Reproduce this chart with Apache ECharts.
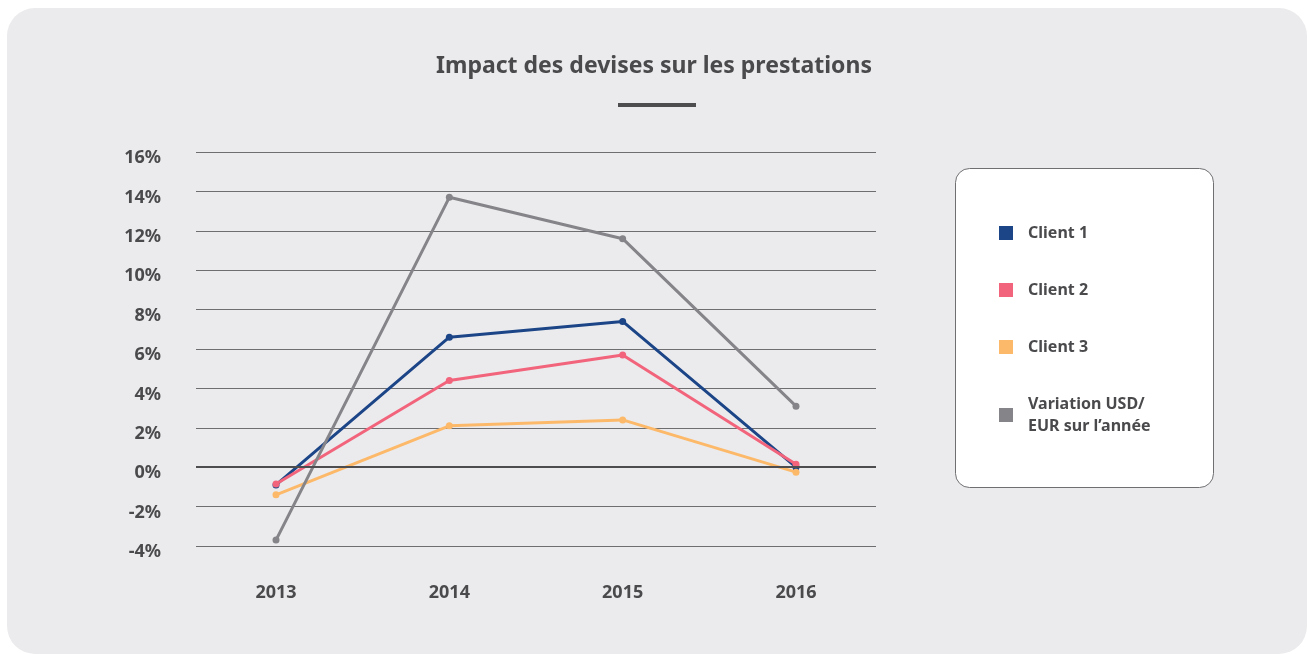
<!DOCTYPE html>
<html>
<head>
<meta charset="utf-8">
<script src="https://cdn.jsdelivr.net/npm/echarts@6/dist/echarts.min.js"></script>
<style>
  html, body { margin: 0; padding: 0; background: #fff; }
  #chart { width: 1308px; height: 654px; }
</style>
</head>
<body>
<div id="chart"></div>
<script>
var years = ['2013', '2014', '2015', '2016'];
var client1 = [-0.9, 6.6, 7.4, 0.0];
var client2 = [-0.85, 4.4, 5.7, 0.15];
var client3 = [-1.4, 2.1, 2.4, -0.25];
var usdEur = [-3.7, 13.7, 11.6, 3.1];
var seriesNames = ['Client 1', 'Client 2', 'Client 3', 'Variation USD/EUR sur l’année'];
var colors = ['#1c4587', '#f2647b', '#fdb96a', '#858589'];

var font = 'Noto Sans';
var textColor = '#4a4a4d';

function makeLine(name, data, color) {
    return {
        name: name,
        type: 'line',
        xAxisIndex: 1,
        yAxisIndex: 1,
        data: data,
        symbol: 'circle',
        symbolSize: 7,
        lineStyle: { width: 3, color: color },
        itemStyle: { color: color },
        emphasis: { disabled: true }
    };
}

var myChart = echarts.init(document.getElementById('chart'));

var option = {
    animation: false,
    textStyle: { fontFamily: font },
    title: {
        text: 'Impact des devises sur les prestations',
        left: 'center',
        top: 50,
        textStyle: { fontFamily: font, fontSize: 23, fontWeight: 'bold', color: textColor }
    },
    graphic: [
        {
            type: 'rect', z: -10,
            shape: { x: 7, y: 8, width: 1300, height: 646, r: 28 },
            style: { fill: '#ebebed' }
        },
        {
            type: 'rect',
            shape: { x: 618, y: 103, width: 78, height: 4 },
            style: { fill: '#4d4d4f' }
        },
        {
            type: 'rect', z: -5,
            shape: { x: 955.5, y: 168.5, width: 258, height: 319, r: 14 },
            style: { fill: '#ffffff', stroke: '#6f6f72', lineWidth: 1 }
        }
    ],
    legend: {
        orient: 'vertical',
        left: 994,
        top: 217,
        itemGap: 35,
        itemWidth: 14,
        itemHeight: 14,
        icon: 'rect',
        data: seriesNames,
        formatter: function (name) {
            return name.replace('USD/', 'USD/\n');
        },
        textStyle: {
            fontFamily: font, fontSize: 16, fontWeight: 'bold', color: textColor,
            lineHeight: 22, padding: [0, 0, 0, 10]
        }
    },
    grid: [
        { left: 196, right: 432, top: 152, bottom: 108 },
        { left: 276, right: 512, top: 152, bottom: 108 }
    ],
    xAxis: [
        {
            gridIndex: 0, type: 'category', data: years,
            show: false
        },
        {
            gridIndex: 1, type: 'category', data: years, boundaryGap: false,
            axisLine: { show: false },
            axisTick: { show: false },
            axisLabel: { margin: 38, fontFamily: font, fontSize: 18, fontWeight: 'bold', color: textColor }
        }
    ],
    yAxis: [
        {
            gridIndex: 0, type: 'value', min: -4, max: 16, interval: 2,
            axisLine: { show: false },
            axisTick: { show: false },
            axisLabel: {
                margin: 35, fontFamily: font, fontSize: 18, fontWeight: 'bold', color: textColor,
                verticalAlign: 'top', lineHeight: 12,
                formatter: '{value}%'
            },
            splitLine: {
                lineStyle: {
                    color: '#6e6e70', width: 1
                }
            }
        },
        {
            gridIndex: 1, type: 'value', min: -4, max: 16, interval: 2,
            show: false,
            splitLine: { show: false }
        }
    ],
    series: [
        {
            type: 'line', xAxisIndex: 0, yAxisIndex: 0, data: [],
            silent: true,
            markLine: {
                symbol: 'none', silent: true, label: { show: false },
                lineStyle: { color: '#4d4d4f', width: 2, type: 'solid' },
                data: [{ yAxis: 0 }]
            }
        },
        makeLine(seriesNames[0], client1, colors[0]),
        makeLine(seriesNames[1], client2, colors[1]),
        makeLine(seriesNames[2], client3, colors[2]),
        makeLine(seriesNames[3], usdEur, colors[3])
    ]
};

myChart.setOption(option);
</script>
</body>
</html>
